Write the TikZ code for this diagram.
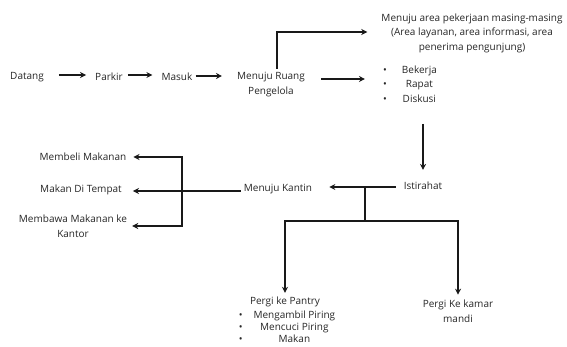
\documentclass[tikz,border=0pt]{standalone}
\usepackage{fontspec}
\setmainfont{Open Sans}
\usetikzlibrary{arrows.meta}
\begin{document}
\begin{tikzpicture}[x=1pt,y=-1pt,
  lbl/.style={inner sep=1pt,font=\fontsize{10}{14.5}\selectfont,text=black!85,align=center},
  flow/.style={line width=1.6pt,draw=black!90,-{Stealth[length=6pt,width=6pt]}},
  plain/.style={line width=1.6pt,draw=black!90}]
\useasboundingbox (0,0) rectangle (567,347);
% main sequence
\node[lbl] (datang) at (27,77) {Datang};
\node[lbl] (parkir) at (109,77) {Parkir};
\node[lbl] (masuk) at (177,77) {Masuk};
\node[lbl] (ruang) at (271,84.5) {Menuju Ruang\\Pengelola};
\node[lbl] (area) at (472,33) {Menuju area pekerjaan masing-masing\\(Area layanan, area informasi, area\\penerima pengunjung)};
\node[lbl] (kerja) at (410,85) {\begin{tabular}{@{}l@{\hspace{15pt}}c@{}}\textbullet & Bekerja\\ \textbullet & Rapat\\ \textbullet & Diskusi\end{tabular}};
\node[lbl] (istirahat) at (423,186) {Istirahat};
\node[lbl] (kantin) at (278,189) {Menuju Kantin};
% canteen options
\node[lbl] (beli) at (83,157) {Membeli Makanan};
\node[lbl] (tempat) at (81,190) {Makan Di Tempat};
\node[lbl] (bawa) at (73,226.5) {Membawa Makanan ke\\Kantor};
% break options
\node[lbl] (pantry) at (285,302) {Pergi ke Pantry};
\node[lbl,font=\fontsize{10}{13}\selectfont] (pantrylist) at (287,328) {\renewcommand{\arraystretch}{0.93}\begin{tabular}{@{}l@{\hspace{11pt}}c@{}}\textbullet & Mengambil Piring\\ \textbullet & Mencuci Piring\\ \textbullet & Makan\end{tabular}};
\node[lbl] (kamar) at (458,311) {Pergi Ke kamar\\mandi};

% junction points
\coordinate (up) at (277,32);
\coordinate (split) at (365,187);
\coordinate (splitlow) at (365,221);
\coordinate (left) at (285,221);
\coordinate (right) at (458,221);
\coordinate (kj) at (182,191);
\coordinate (kjtop) at (182,157);
\coordinate (kjbot) at (182,226);

% connectors (yshift is measured upwards)
\draw[flow] ([xshift=14pt,yshift=2pt]datang.east) -- ([xshift=-8pt,yshift=2pt]parkir.west);
\draw[flow] ([xshift=4pt,yshift=2pt]parkir.east) -- ([xshift=-8pt,yshift=2pt]masuk.west);
\draw[flow] ([xshift=2pt,yshift=1pt]masuk.east) -- ([xshift=-14pt,yshift=8.5pt]ruang.west);
\draw[flow] ([yshift=2.5pt]ruang.north -| up) |- ([xshift=-13pt]area.west |- up);
\draw[flow] ([xshift=15pt,yshift=5.5pt]ruang.east) -- ([xshift=-17pt,yshift=6pt]kerja.west);
\draw[flow] ([yshift=-16pt]kerja.south -| istirahat) -- ([yshift=11pt]istirahat.north);
\draw[flow] ([xshift=-7pt,yshift=-1pt]istirahat.west) -- ([xshift=16pt,yshift=2pt]kantin.east);
\draw[plain] (split) -- (splitlow);
\draw[plain] ([xshift=-0.8pt]left) -- ([xshift=0.8pt]right);
\draw[flow] (left) -- ([yshift=3pt]pantry.north);
\draw[flow] (right) -- ([yshift=4pt]kamar.north);
\draw[plain] ([xshift=-2pt,yshift=-2pt]kantin.west) -- (kj);
\draw[plain] ([yshift=0.8pt]kjtop) -- ([yshift=-0.8pt]kjbot);
\draw[flow] ([xshift=0.8pt]kjtop) -- ([xshift=6pt]beli.east |- kjtop);
\draw[flow] (kj) -- ([xshift=10pt]tempat.east |- kj);
\draw[flow] ([xshift=0.8pt]kjbot) -- ([xshift=4pt]bawa.east |- kjbot);
\end{tikzpicture}
\end{document}
